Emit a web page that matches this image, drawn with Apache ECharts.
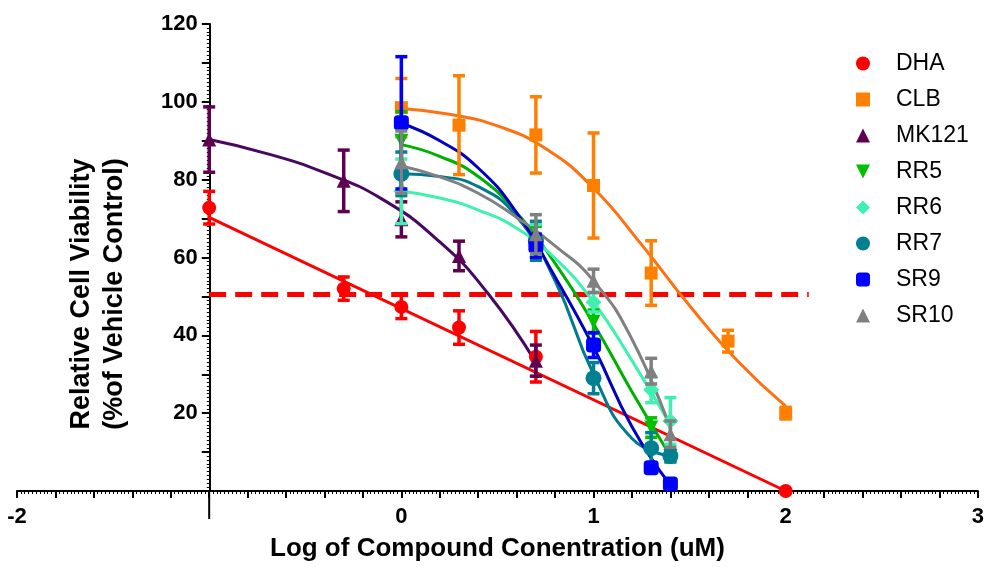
<!DOCTYPE html>
<html>
<head>
<meta charset="utf-8">
<script src="https://cdn.jsdelivr.net/npm/echarts@6/dist/echarts.min.js"></script>
<style>
html,body{margin:0;padding:0;background:#fff;}
#c{width:987px;height:567px;}
</style>
</head>
<body>
<div id="c"></div>
<script>
// ---------- data ----------
const seriesNames = ['DHA','CLB','MK121','RR5','RR6','RR7','SR9','SR10'];

const dhaX = [-1, -0.3, 0, 0.3, 0.7, 2];
const dhaY = [72.8, 52, 47.3, 42, 34.5, 0];
const dhaErr = [4.2, 3, 3, 4.3, 6.5, 0];
const dhaFitX = [-1, 2];
const dhaFitY = [70.3, 0];

const clbX = [0, 0.3, 0.7, 1, 1.3, 1.7, 2];
const clbY = [98.5, 94, 91.5, 78.5, 56, 38.5, 20];
const clbErr = [7.5, 12.7, 9.8, 13.5, 8.3, 2.8, 1.5];
const clbFitX = [0, 0.25, 0.5, 0.75, 1, 1.25, 1.5, 1.75, 2];
const clbFitY = [98.3, 96.8, 93.8, 88, 77.8, 63.3, 47.6, 33.4, 21.8];

const mkX = [-1, -0.3, 0, 0.3, 0.7];
const mkY = [90.3, 79.7, 69.8, 60.4, 33.5];
const mkErr = [8.4, 7.9, 4.5, 3.8, 4];
const mkFitX = [-1, -0.7, -0.4, -0.1, 0.2, 0.45, 0.7];
const mkFitY = [90.3, 86.7, 81.8, 75, 64, 50.8, 33];

const fitX5 = [0, 0.2, 0.4, 0.6, 0.8, 1, 1.2, 1.4];
const ptsX5 = [0, 0.7, 1, 1.3, 1.4];

const rr5Y = [90, 64, 43.5, 16.3, 9];
const rr5Err = [7.5, 4, 3, 2.5, 1.5];
const rr5FitY = [89, 86, 80.8, 71.5, 58.5, 43, 25.5, 9];

const rr6Y = [77, 64.5, 48.5, 26, 18];
const rr6Err = [8.3, 4, 2.5, 3.3, 6];
const rr6FitY = [77, 75.3, 72.2, 67.5, 59.8, 48.5, 33.5, 17];

const rr7Y = [81.5, 64.3, 29, 11, 9];
const rr7Err = [5.6, 5, 4, 4, 1.5];
const rr7FitY = [81.5, 80.8, 78.2, 70.5, 54, 30, 13.5, 9];

const sr9Y = [94.6, 63, 37.5, 6, 1.8];
const sr9Err = [17, 3, 3.2, 1, 0.5];
const sr9FitY = [94.5, 90, 83, 71.5, 55, 37, 16.5, 1.5];

const sr10Y = [84.5, 66, 54, 30.8, 14.6];
const sr10Err = [8, 5, 3, 3.3, 3.4];
const sr10FitY = [83.5, 80.7, 76.5, 70.3, 63, 54, 39, 16];

const halfLineX = [-1, 2.12];
const halfLineY = [50.5, 50.5];

// ---------- styling ----------
const FONT = 'Liberation Sans, Arial, sans-serif';
const defs = [
  {name:'DHA',  x:dhaX, y:dhaY, e:dhaErr, fx:dhaFitX, fy:dhaFitY, color:'#ff0000', line:'#ff0000', symbol:'circle', size:14},
  {name:'CLB',  x:clbX, y:clbY, e:clbErr, fx:clbFitX, fy:clbFitY, color:'#ff8000', line:'#ff7010', symbol:'rect', size:13},
  {name:'MK121',x:mkX,  y:mkY,  e:mkErr,  fx:mkFitX,  fy:mkFitY,  color:'#600050', line:'#480860', symbol:'triangle', size:14},
  {name:'RR5',  x:ptsX5,y:rr5Y, e:rr5Err, fx:fitX5,   fy:rr5FitY, color:'#00c000', line:'#00b000', symbol:'path://M0,0L10,0L5,10Z', size:14},
  {name:'RR6',  x:ptsX5,y:rr6Y, e:rr6Err, fx:fitX5,   fy:rr6FitY, color:'#40f0b0', line:'#40f0b0', symbol:'diamond', size:16},
  {name:'RR7',  x:ptsX5,y:rr7Y, e:rr7Err, fx:fitX5,   fy:rr7FitY, color:'#008090', line:'#007a90', symbol:'circle', size:16},
  {name:'SR9',  x:ptsX5,y:sr9Y, e:sr9Err, fx:fitX5,   fy:sr9FitY, color:'#0000ff', line:'#0000c0', symbol:'roundRect', size:15},
  {name:'SR10', x:ptsX5,y:sr10Y,e:sr10Err,fx:fitX5,   fy:sr10FitY,color:'#808080', line:'#808080', symbol:'triangle', size:14}
];

function errRender(color){
  return function(params, api){
    const x = api.value(0), y = api.value(1), e = api.value(2);
    if (!e) return null;
    const t = api.coord([x, y + e]);
    const b = api.coord([x, y - e]);
    const hw = 6;
    const st = {stroke: color, lineWidth: 3.5};
    return {type:'group', children:[
      {type:'line', shape:{x1:t[0], y1:t[1], x2:b[0], y2:b[1]}, style:st},
      {type:'line', shape:{x1:t[0]-hw, y1:t[1], x2:t[0]+hw, y2:t[1]}, style:st},
      {type:'line', shape:{x1:b[0]-hw, y1:b[1], x2:b[0]+hw, y2:b[1]}, style:st}
    ]};
  };
}

const series = [];
series.push({
  name:'half', type:'line', data: halfLineX.map((v,i)=>[v, halfLineY[i]]),
  symbol:'none', lineStyle:{color:'#ff0000', width:5, type:[17,9]}, z:1, silent:true
});
defs.forEach((d, k) => {
  series.push({
    name: d.name + ' fit', type:'line', smooth: 0.5, symbol:'none',
    data: d.fx.map((v,i)=>[v, d.fy[i]]),
    lineStyle:{color:d.line, width:3}, z: 2 + k*0.01, silent:true
  });
});
defs.forEach((d, k) => {
  series.push({
    name: d.name + ' err', type:'custom', renderItem: errRender(d.color),
    data: d.x.map((v,i)=>[v, d.y[i], d.e[i]]), z: 3 + k*0.01, clip:false, silent:true
  });
  series.push({
    name: d.name, type:'scatter', symbol:d.symbol, symbolSize:d.size,
    data: d.x.map((v,i)=>[v, d.y[i]]),
    itemStyle:{color:d.color, opacity:1}, z: 3 + k*0.01 + 0.005, clip:false
  });
});

const chart = echarts.init(document.getElementById('c'));
const gridLeft = 17, gridRight = 6;
const unitPx = (987 - gridLeft - gridRight) / 5;

chart.setOption({
  animation:false,
  backgroundColor:'#ffffff',
  grid:{left:gridLeft, right:gridRight, top:24, bottom:73, containLabel:false},
  legend:{
    orient:'vertical', left:851, top:47, itemWidth:14, itemHeight:14, itemGap:13,
    data: defs.map(d=>({name:d.name, icon:d.symbol})),
    textStyle:{fontFamily:FONT, fontSize:23, color:'#000', padding:[0,0,0,21], lineHeight:23}
  },
  xAxis:{
    type:'value', min:-2, max:3, interval:0.2,
    name:'Log of Compound Conentration (uM)', nameLocation:'middle', nameGap:45,
    nameTextStyle:{fontFamily:FONT, fontSize:26, fontWeight:'bold', color:'#000'},
    axisLine:{onZero:false, lineStyle:{color:'#000', width:2}},
    axisTick:{show:true, length:7, lineStyle:{color:'#000', width:2}},
    minorTick:{show:true, splitNumber:10, length:3, lineStyle:{color:'#000', width:1}},
    splitLine:{show:false},
    axisLabel:{
      margin:15, fontFamily:FONT, fontSize:22, fontWeight:'bold', color:'#000',
      formatter:function(v){ const r = Math.round(v); return (Math.abs(v-r) < 1e-6 && r !== -1) ? String(r) : ''; }
    }
  },
  yAxis:{
    type:'value', min:0, max:120, interval:10, offset: -unitPx,
    axisLine:{show:true, onZero:false, lineStyle:{color:'#000', width:2}},
    axisTick:{show:true, length:8, lineStyle:{color:'#000', width:2}},
    minorTick:{show:true, splitNumber:10, length:3, lineStyle:{color:'#000', width:1}},
    splitLine:{show:false},
    axisLabel:{
      margin:12, fontFamily:FONT, fontSize:22, fontWeight:'bold', color:'#000',
      formatter:function(v){ return (v > 0 && Math.round(v) % 20 === 0) ? String(Math.round(v)) : ''; }
    }
  },
  series: series
});

const p0 = chart.convertToPixel({gridIndex:0}, [-1, 0]);
chart.setOption({
  graphic:[
    {type:'line', shape:{x1:p0[0], y1:p0[1], x2:p0[0], y2:p0[1]+28}, style:{stroke:'#000', lineWidth:2}, z:10},
    {type:'text', x:98, y:294, rotation:Math.PI/2,
     style:{text:'Relative Cell Viability\n(%of Vehicle Control)', fontFamily:FONT, fontSize:27, fontWeight:'bold',
            fill:'#000', textAlign:'center', textVerticalAlign:'middle', lineHeight:33}}
  ]
});
</script>
</body>
</html>
